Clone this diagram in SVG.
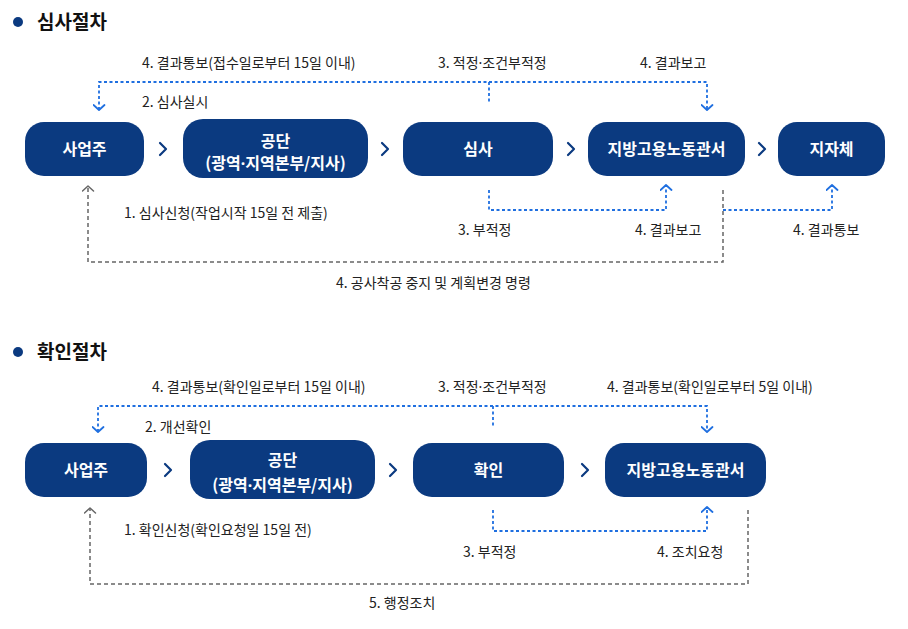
<svg xmlns="http://www.w3.org/2000/svg" width="908" height="629" viewBox="0 0 908 629">
<style>
.bg{fill:#ffffff}
.node{fill:#0b3a80}
.nt{font-family:"Noto Sans CJK KR","Noto Sans",sans-serif;font-size:16px;font-weight:700;fill:#ffffff;text-anchor:middle}
.lbl{font-family:"Noto Sans CJK KR","Noto Sans",sans-serif;font-size:14px;fill:#222222}
.title{font-family:"Noto Sans CJK KR","Noto Sans",sans-serif;font-size:19px;font-weight:700;fill:#111111}
.dot{font-family:"Noto Sans",sans-serif}
.chev{fill:none;stroke:#0b3a80;stroke-width:2.2;stroke-linecap:round;stroke-linejoin:round}
.blue{fill:none;stroke:#1f6fe0;stroke-width:1.8;stroke-dasharray:3 2.5}
.gray{fill:none;stroke:#666666;stroke-width:1.5;stroke-dasharray:4 3}
</style>
<defs>
<marker id="ab" viewBox="0 0 7 13" refX="6" refY="6.5" markerWidth="7" markerHeight="13" markerUnits="userSpaceOnUse" orient="auto-start-reverse">
<path d="M1,1 L6,6.5 L1,12" fill="none" stroke="#1f6fe0" stroke-width="1.8" stroke-linecap="round" stroke-linejoin="round"/>
</marker>
<marker id="ag" viewBox="0 0 7 13" refX="6" refY="6.5" markerWidth="7" markerHeight="13" markerUnits="userSpaceOnUse" orient="auto">
<path d="M1,1 L6,6.5 L1,12" fill="none" stroke="#666666" stroke-width="1.5" stroke-linecap="round" stroke-linejoin="round"/>
</marker>
</defs>
<rect class="bg" x="0" y="0" width="908" height="629"/>

<g id="title1">
<circle cx="18" cy="22" r="5" fill="#0b3a80"/>
<text class="title" x="37" y="29">심사절차</text>
</g>
<g id="title2">
<circle cx="18" cy="352" r="5" fill="#0b3a80"/>
<text class="title" x="37" y="359">확인절차</text>
</g>

<g id="connectors">
<!-- section 1 -->
<path class="blue" d="M99,110 V82 H707 V110" marker-start="url(#ab)" marker-end="url(#ab)"/>
<path class="blue" d="M489,82 V103"/>
<path class="blue" d="M489,190 V210 H666 V185" marker-end="url(#ab)"/>
<path class="blue" d="M723,210 H832 V185" marker-end="url(#ab)"/>
<path class="gray" d="M723,190 V262 H88 V186" marker-end="url(#ag)"/>
<polyline class="chev" points="160,143 166,149 160,155"/>
<polyline class="chev" points="382,143 388,149 382,155"/>
<polyline class="chev" points="568,143 574,149 568,155"/>
<polyline class="chev" points="759,143 765,149 759,155"/>
<!-- section 2 -->
<path class="blue" d="M98,432 V406 H707 V432" marker-start="url(#ab)" marker-end="url(#ab)"/>
<path class="blue" d="M493,406 V427"/>
<path class="blue" d="M493,510 V531 H707 V507" marker-end="url(#ab)"/>
<path class="gray" d="M748,510 V584 H90 V508" marker-end="url(#ag)"/>
<polyline class="chev" points="165,464 171,470 165,476"/>
<polyline class="chev" points="390,464 396,470 390,476"/>
<polyline class="chev" points="582,464 588,470 582,476"/>
</g>

<g id="labels1">
<text class="lbl" x="142" y="68">4. 결과통보(접수일로부터 15일 이내)</text>
<text class="lbl" x="142" y="107">2. 심사실시</text>
<text class="lbl" x="438" y="68">3. 적정<tspan class="dot">·</tspan>조건부적정</text>
<text class="lbl" x="640" y="68">4. 결과보고</text>
<text class="lbl" x="124" y="218">1. 심사신청(작업시작 15일 전 제출)</text>
<text class="lbl" x="458" y="235">3. 부적정</text>
<text class="lbl" x="635" y="235">4. 결과보고</text>
<text class="lbl" x="793" y="235">4. 결과통보</text>
<text class="lbl" x="336" y="288">4. 공사착공 중지 및 계획변경 명령</text>
</g>
<g id="labels2">
<text class="lbl" x="152" y="392">4. 결과통보(확인일로부터 15일 이내)</text>
<text class="lbl" x="145" y="432">2. 개선확인</text>
<text class="lbl" x="438" y="392">3. 적정<tspan class="dot">·</tspan>조건부적정</text>
<text class="lbl" x="607" y="392">4. 결과통보(확인일로부터 5일 이내)</text>
<text class="lbl" x="124" y="535">1. 확인신청(확인요청일 15일 전)</text>
<text class="lbl" x="463" y="557">3. 부적정</text>
<text class="lbl" x="657" y="557">4. 조치요청</text>
<text class="lbl" x="369" y="608">5. 행정조치</text>
</g>

<g id="s1-employer"><rect class="node" x="25" y="122" width="119" height="54" rx="19"/><text class="nt" x="84.5" y="155">사업주</text></g>
<g id="s1-agency"><rect class="node" x="183" y="119" width="185" height="59" rx="20"/><text class="nt" x="275.5" y="147">공단</text><text class="nt" x="275.5" y="169">(광역<tspan class="dot">·</tspan>지역본부/지사)</text></g>
<g id="s1-review"><rect class="node" x="403" y="122" width="150" height="54" rx="19"/><text class="nt" x="478" y="155">심사</text></g>
<g id="s1-office"><rect class="node" x="588" y="122" width="157" height="54" rx="19"/><text class="nt" x="666.5" y="155">지방고용노동관서</text></g>
<g id="s1-local"><rect class="node" x="778" y="122" width="107" height="54" rx="19"/><text class="nt" x="831.5" y="155">지자체</text></g>

<g id="s2-employer"><rect class="node" x="25" y="443" width="122" height="54" rx="19"/><text class="nt" x="86" y="476">사업주</text></g>
<g id="s2-agency"><rect class="node" x="190" y="440" width="185" height="59" rx="20"/><text class="nt" x="282.5" y="466">공단</text><text class="nt" x="282.5" y="491">(광역<tspan class="dot">·</tspan>지역본부/지사)</text></g>
<g id="s2-check"><rect class="node" x="413" y="443" width="151" height="54" rx="19"/><text class="nt" x="488.5" y="476">확인</text></g>
<g id="s2-office"><rect class="node" x="605" y="443" width="161" height="54" rx="19"/><text class="nt" x="685.5" y="476">지방고용노동관서</text></g>
</svg>
